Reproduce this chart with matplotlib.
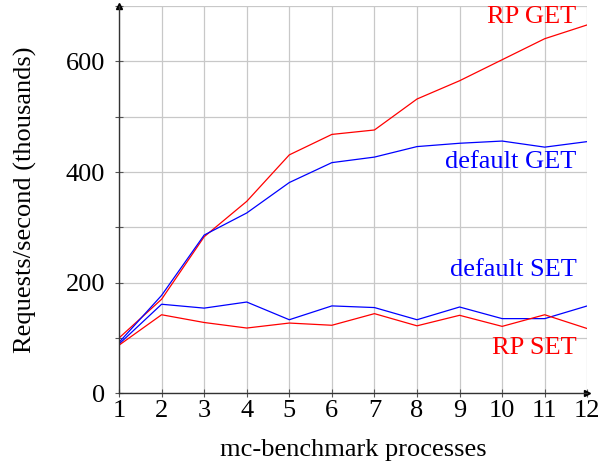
import matplotlib.pyplot as plt

processes = [1, 2, 3, 4, 5, 6, 7, 8, 9, 10, 11, 12]
rp_get = [100, 170, 283, 347, 431, 468, 476, 532, 565, 603, 641, 666]
default_get = [92, 177, 286, 326, 381, 417, 427, 446, 452, 456, 445, 455]
default_set = [89, 161, 154, 165, 133, 158, 155, 133, 156, 135, 135, 158]
rp_set = [87, 142, 128, 118, 127, 123, 144, 122, 141, 121, 142, 117]

plt.rcParams["font.family"] = "Liberation Serif"
fs = 19

fig = plt.figure(figsize=(6.06, 4.67), dpi=100)
ax = fig.add_axes([0.1964, 0.1578, 0.7727, 0.8292])

ax.plot(processes, rp_get, color="red", linewidth=0.9)
ax.plot(processes, default_get, color="blue", linewidth=0.9)
ax.plot(processes, default_set, color="blue", linewidth=0.9)
ax.plot(processes, rp_set, color="red", linewidth=0.9)

ax.set_xlim(1, 12)
ax.set_ylim(0, 700)
ax.set_xticks(processes)
ax.set_yticks(range(0, 701, 100))
ax.set_yticklabels([str(v) if v % 200 == 0 else "" for v in range(0, 701, 100)])
ax.grid(True, color="#c8c8c8", linewidth=0.9)
ax.set_axisbelow(True)
ax.tick_params(direction="inout", length=6, width=0.8, color="#555555",
               labelsize=fs)
ax.tick_params(axis="x", pad=2)
ax.tick_params(axis="y", pad=7)

for s in ["top", "right"]:
    ax.spines[s].set_visible(False)
for s in ["left", "bottom"]:
    ax.spines[s].set_linewidth(1.0)
    ax.spines[s].set_color("#333333")

# axis arrows
ax.plot(1, 700, marker="^", color="black", markersize=5, clip_on=False)
ax.plot(12, 0, marker=">", color="black", markersize=5, clip_on=False)

ax.text(11.75, 680, "RP GET", color="red", fontsize=fs, ha="right", va="center")
ax.text(11.75, 419, "default GET", color="blue", fontsize=fs, ha="right", va="center")
ax.text(11.75, 222, "default SET", color="blue", fontsize=fs, ha="right", va="center")
ax.text(11.75, 82, "RP SET", color="red", fontsize=fs, ha="right", va="center")

ax.set_xlabel("mc-benchmark processes", fontsize=fs)
ax.set_ylabel("Requests/second (thousands)", fontsize=fs)
ax.xaxis.set_label_coords(0.5, -0.146)
ax.xaxis.label.set_verticalalignment("center")
ax.yaxis.set_label_coords(-0.199, 0.5)
ax.yaxis.label.set_verticalalignment("center")

fig.savefig("out.png", dpi=100)
